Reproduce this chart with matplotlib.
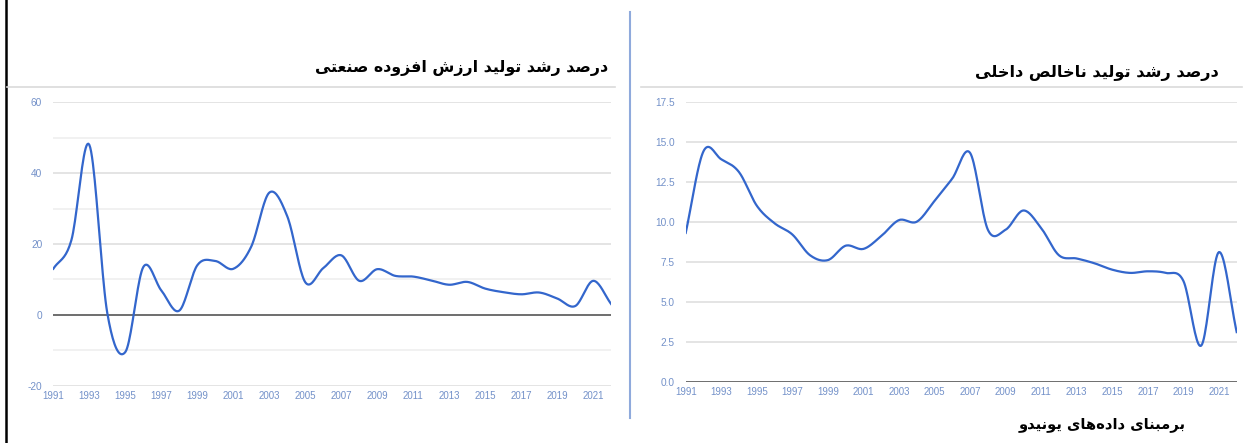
import numpy as np
import matplotlib
matplotlib.use("Agg")
import matplotlib.pyplot as plt
from matplotlib.lines import Line2D


years = list(range(1991, 2023))
# industry value added growth (%)
industry_growth = [13.0, 21.0, 48.0, 0.5, -10.5, 13.5, 6.9, 1.2, 14.0, 15.2,
                   13.0, 19.3, 34.5, 27.8, 9.2, 13.2, 16.8, 9.6, 12.9, 11.0,
                   10.8, 9.7, 8.5, 9.3, 7.4, 6.4, 5.8, 6.3, 4.6, 2.5, 9.6, 3.0]
# GDP growth (%)
gdp_growth = [9.3, 14.4, 13.9, 13.1, 11.0, 9.9, 9.2, 7.9, 7.6, 8.5,
              8.3, 9.1, 10.1, 10.0, 11.3, 12.7, 14.3, 9.5, 9.5, 10.7,
              9.6, 7.9, 7.7, 7.4, 7.0, 6.8, 6.9, 6.8, 6.3, 2.25, 8.1, 3.1]
year_ticks = list(range(1991, 2022, 2))
industry_ticks = [-20, 0, 20, 40, 60]
gdp_ticks = [0.0, 2.5, 5.0, 7.5, 10.0, 12.5, 15.0, 17.5]

title_industry = "درصد رشد تولید ارزش افزوده صنعتی"
title_gdp = "درصد رشد تولید ناخالص داخلی"
source_note = "برمبنای داده\u200cهای یونیدو"

W, H = 1249, 443
LINE = "#3366cc"
TICK = "#7391c9"


# matplotlib has no arabic shaping, so pick presentation forms by hand
# (isolated, final, initial, medial)
FORMS = {
    "ا": ("\ufe8d", "\ufe8e", None, None),
    "ب": ("\ufe8f", "\ufe90", "\ufe91", "\ufe92"),
    "ت": ("\ufe95", "\ufe96", "\ufe97", "\ufe98"),
    "خ": ("\ufea5", "\ufea6", "\ufea7", "\ufea8"),
    "د": ("\ufea9", "\ufeaa", None, None),
    "ر": ("\ufead", "\ufeae", None, None),
    "ز": ("\ufeaf", "\ufeb0", None, None),
    "ش": ("\ufeb5", "\ufeb6", "\ufeb7", "\ufeb8"),
    "ص": ("\ufeb9", "\ufeba", "\ufebb", "\ufebc"),
    "ع": ("\ufec9", "\ufeca", "\ufecb", "\ufecc"),
    "ف": ("\ufed1", "\ufed2", "\ufed3", "\ufed4"),
    "ل": ("\ufedd", "\ufede", "\ufedf", "\ufee0"),
    "م": ("\ufee1", "\ufee2", "\ufee3", "\ufee4"),
    "ن": ("\ufee5", "\ufee6", "\ufee7", "\ufee8"),
    "ه": ("\ufee9", "\ufeea", "\ufeeb", "\ufeec"),
    "و": ("\ufeed", "\ufeee", None, None),
    "ی": ("\ufbfc", "\ufbfd", "\ufbfe", "\ufbff"),
}


def dual(c):
    return c in FORMS and FORMS[c][2] is not None


def shape(text):
    out = []
    for i, c in enumerate(text):
        if c == "\u200c":
            continue
        if c not in FORMS:
            out.append(c)
            continue
        prev = text[i - 1] if i > 0 else ""
        nxt = text[i + 1] if i + 1 < len(text) else ""
        join_prev = dual(prev)
        join_next = dual(c) and nxt in FORMS
        iso, fin, ini, med = FORMS[c]
        if join_prev and join_next:
            out.append(med)
        elif join_prev:
            out.append(fin)
        elif join_next:
            out.append(ini)
        else:
            out.append(iso)
    return "".join(reversed(out))


def smooth(x, y, n=20):
    # cubic hermite (catmull-rom) through the points, like curveType 'function'
    x = np.asarray(x, float)
    y = np.asarray(y, float)
    m = np.zeros_like(y)
    m[1:-1] = (y[2:] - y[:-2]) / 2
    m[0] = y[1] - y[0]
    m[-1] = y[-1] - y[-2]
    xs, ys = [], []
    for i in range(len(x) - 1):
        t = np.linspace(0, 1, n, endpoint=False)
        h00 = 2 * t**3 - 3 * t**2 + 1
        h10 = t**3 - 2 * t**2 + t
        h01 = -2 * t**3 + 3 * t**2
        h11 = t**3 - t**2
        xs.extend(x[i] + t * (x[i + 1] - x[i]))
        ys.extend(h00 * y[i] + h10 * m[i] + h01 * y[i + 1] + h11 * m[i + 1])
    xs.append(x[-1])
    ys.append(y[-1])
    return xs, ys


def box(l, t, r, b):
    return [l / W, 1 - b / H, (r - l) / W, (b - t) / H]


def setup(ax, ticks, minor, labels, base):
    ax.set_xlim(1991, 2022)
    ax.set_ylim(ticks[0], ticks[-1])
    for s in ax.spines.values():
        s.set_visible(False)
    ax.set_xticks(year_ticks)
    ax.set_yticks(ticks)
    ax.set_yticklabels(labels)
    ax.set_yticks(minor, minor=True)
    ax.tick_params(length=0, labelsize=7, labelcolor=TICK)
    ax.tick_params(axis="y", which="both", length=0, pad=8, labelsize=7.3)
    ax.tick_params(axis="x", pad=4)
    for lab in ax.get_xticklabels() + ax.get_yticklabels():
        lab.set_family("Liberation Sans")
    ax.grid(axis="y", which="major", color="#dcdcdc", lw=1.1)
    ax.grid(axis="y", which="minor", color="#eeeeee", lw=1.1)
    ax.set_axisbelow(True)
    ax.axhline(base, color="#5a5a5a", lw=1.2, zorder=1)


fig = plt.figure(figsize=(W / 100, H / 100), dpi=100)

ax1 = fig.add_axes(box(53.3, 102.3, 611.3, 385.7))
setup(ax1, industry_ticks, [-10, 10, 30, 50],
      [str(v) for v in industry_ticks], 0)
sx, sy = smooth(years, industry_growth)
ax1.plot(sx, sy, color=LINE, lw=1.6, zorder=3)

ax2 = fig.add_axes(box(685.7, 101.7, 1236.7, 381.7))
setup(ax2, gdp_ticks, [], ["%.1f" % v for v in gdp_ticks], 0)
sx, sy = smooth(years, gdp_growth)
ax2.plot(sx, sy, color=LINE, lw=1.6, zorder=3)

# titles and source note
fig.text(608 / W, 1 - 68 / H, shape(title_industry), ha="right", va="center",
         fontsize=11.4, fontweight="bold", family=["DejaVu Sans"])
fig.text(1219 / W, 1 - 73 / H, shape(title_gdp), ha="right", va="center",
         fontsize=11.6, fontweight="bold", family=["DejaVu Sans"])
fig.text(1186 / W, 1 - 425 / H, shape(source_note), ha="right", va="center",
         fontsize=10.6, fontweight="bold", family=["DejaVu Sans"])

# frame lines
fig.add_artist(Line2D([6 / W, 6 / W], [0, 1], color="black", lw=1.8))
fig.add_artist(Line2D([630 / W, 630 / W], [1 - 12 / H, 1 - 418 / H],
                      color="#8faadc", lw=1.5))
fig.add_artist(Line2D([7 / W, 615 / W], [1 - 87 / H, 1 - 87 / H],
                      color="#dadada", lw=1.2))
fig.add_artist(Line2D([641 / W, 1242 / W], [1 - 87 / H, 1 - 87 / H],
                      color="#dadada", lw=1.2))

fig.savefig("out.png", dpi=100)
